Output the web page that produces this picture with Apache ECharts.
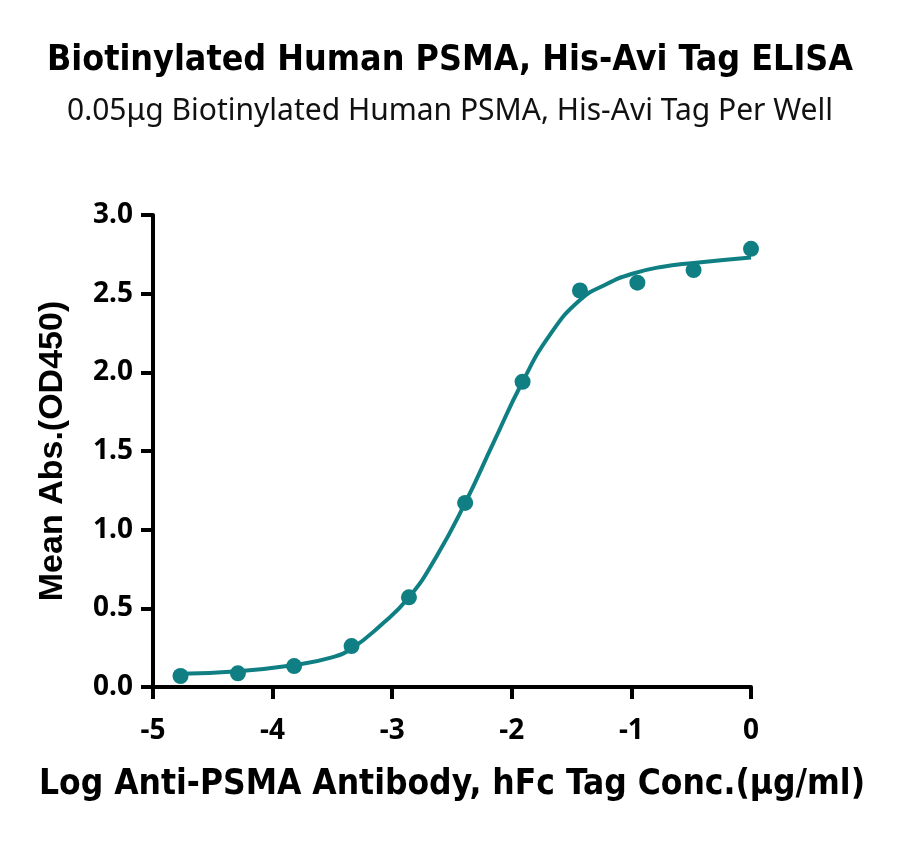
<!DOCTYPE html>
<html>
<head>
<meta charset="utf-8">
<script src="https://cdn.jsdelivr.net/npm/echarts@6/dist/echarts.min.js"></script>
<style>
  html, body { margin: 0; padding: 0; background: #fff; }
  #chart { width: 900px; height: 842px; }
</style>
</head>
<body>
<div id="chart"></div>
<script>
// measured points: log10 conc (µg/ml) vs mean OD450
var logConc = [-4.77, -4.29, -3.82, -3.34, -2.86, -2.39, -1.91, -1.43, -0.95, -0.48, 0];
var meanAbs = [0.07, 0.087, 0.133, 0.26, 0.57, 1.17, 1.94, 2.52, 2.57, 2.65, 2.785];

// fitted curve
var fitX = [-4.77, -4.29, -3.82, -3.52, -3.34, -3.10, -2.86, -2.63, -2.39, -2.155, -1.91, -1.68, -1.43, -1.21, -1.0, -0.75, -0.48, 0];
var fitY = [0.085, 0.10, 0.14, 0.185, 0.245, 0.39, 0.57, 0.83, 1.17, 1.55, 1.94, 2.24, 2.46, 2.56, 2.625, 2.67, 2.695, 2.73];

var xTicks = [-5, -4, -3, -2, -1, 0];
var yTicks = [0, 0.5, 1.0, 1.5, 2.0, 2.5, 3.0];

var titleText = 'Biotinylated Human PSMA, His-Avi Tag ELISA';
var subText = '0.05\u03bcg Biotinylated Human PSMA, His-Avi Tag Per Well';
var xName = 'Log Anti-PSMA Antibody, hFc Tag Conc.(\u03bcg/ml)';
var yName = 'Mean Abs.(OD450)';

var teal = '#0f7f83';
var narrow = '"DejaVu Sans Condensed", "Noto Sans", sans-serif';

var chart = echarts.init(document.getElementById('chart'), null, { renderer: 'canvas' });

function zip(a, b) {
  return a.map(function (v, i) { return [v, b[i]]; });
}

chart.setOption({
  backgroundColor: '#fff',
  animation: false,
  title: [
    { text: titleText, left: 'center', top: 43, padding: 0,
      textStyle: { fontFamily: narrow, fontWeight: 'bold', fontSize: 35.5, color: '#000' } },
    { text: subText, left: 'center', top: 96, padding: 0,
      textStyle: { fontFamily: '"Noto Sans", sans-serif', fontWeight: 'normal', fontSize: 30, color: '#111' } }
  ],
  grid: { left: 153, top: 215, width: 598, height: 472, outerBoundsMode: 'none', containLabel: false },
  xAxis: {
    type: 'value', min: xTicks[0], max: xTicks[xTicks.length - 1], interval: 1,
    name: xName, nameLocation: 'middle', nameGap: 80,
    nameTextStyle: { fontFamily: narrow, fontWeight: 'bold', fontSize: 35, color: '#000' },
    axisLine: { show: true, onZero: false, lineStyle: { color: '#000', width: 4 } },
    axisTick: { show: true, length: 12, lineStyle: { color: '#000', width: 4 } },
    axisLabel: { margin: 30, color: '#000', fontFamily: '"Noto Sans", sans-serif', fontWeight: 'bold', fontSize: 28 },
    splitLine: { show: false }
  },
  yAxis: {
    type: 'value', min: yTicks[0], max: yTicks[yTicks.length - 1], interval: 0.5,
    name: yName, nameLocation: 'middle', nameGap: 83, nameRotate: 90,
    nameTextStyle: { fontFamily: '"Liberation Sans", Arial, sans-serif', fontWeight: 'bold', fontSize: 34, color: '#000' },
    axisLine: { show: true, onZero: false, lineStyle: { color: '#000', width: 4 } },
    axisTick: { show: true, length: 12, lineStyle: { color: '#000', width: 4 } },
    axisLabel: { margin: 20, color: '#000', fontFamily: '"Noto Sans", sans-serif', fontWeight: 'bold', fontSize: 28,
      formatter: function (v) { return v.toFixed(1); } },
    splitLine: { show: false }
  },
  series: [
    { name: 'fit', type: 'line', data: zip(fitX, fitY), smooth: 0.5, showSymbol: false,
      lineStyle: { color: teal, width: 4 }, z: 2 },
    { name: 'data', type: 'scatter', data: zip(logConc, meanAbs), symbol: 'circle', symbolSize: 16,
      itemStyle: { color: teal, opacity: 1 }, z: 3 }
  ]
});
</script>
</body>
</html>
